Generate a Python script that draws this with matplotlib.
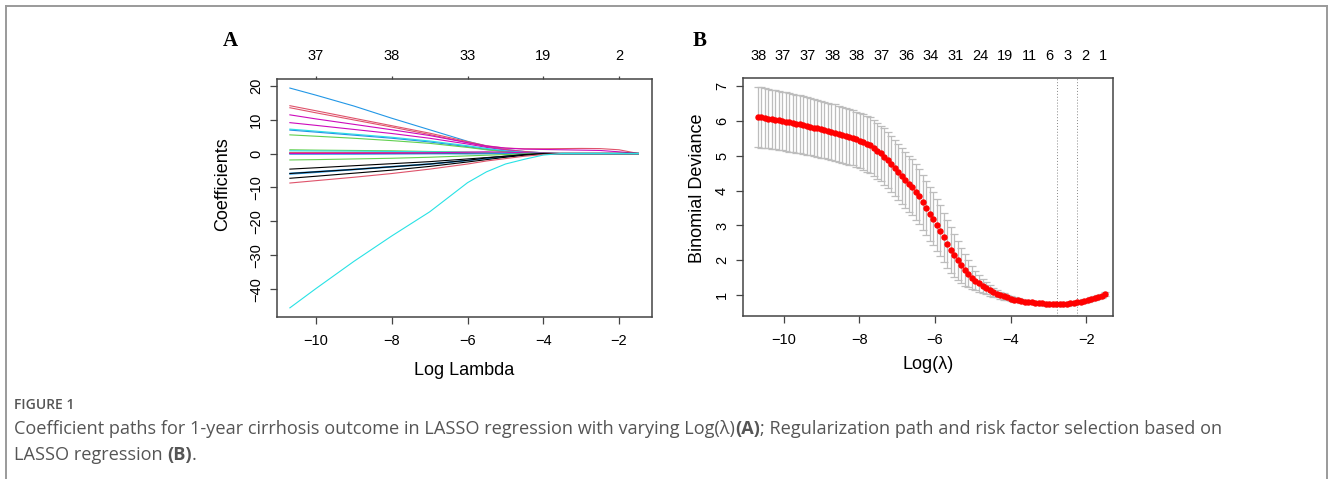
import numpy as np
import matplotlib
matplotlib.use("Agg")
from matplotlib import pyplot as plt
from matplotlib.lines import Line2D

# ---- panel A: coefficient paths, sampled along log lambda ----
path_x = [-10.69, -10, -9, -8, -7, -6, -5.5, -5, -4.5, -4, -3.5, -3, -2.5, -2, -1.49]
path_colors = ["#2297E6", "#DF536B", "#DF536B", "#CD0BBC", "#CD0BBC", "#28E2E5",
               "#2297E6", "#61D04F", "#61D04F", "#28E2E5", "#000000", "#DF536B",
               "#2297E6", "#CD0BBC", "#61D04F", "#000000", "#2297E6", "#2297E6",
               "#000000", "#000000", "#DF536B", "#28E2E5"]
path_y = [
    [19.3, 17.2, 14.0, 10.4, 7.0, 3.6, 2.2, 1.2, 0.6, 0.2, 0, 0, 0, 0, 0],
    [14.1, 12.6, 10.4, 8.2, 6.0, 3.5, 2.3, 1.6, 1.4, 1.4, 1.45, 1.5, 1.45, 1.1, 0],
    [13.5, 12.0, 9.9, 7.8, 5.6, 3.2, 2.0, 1.2, 0.6, 0.2, 0, 0, 0, 0, 0],
    [11.4, 10.2, 8.6, 7.0, 5.3, 3.2, 2.2, 1.6, 1.3, 1.2, 1.1, 1.0, 0.9, 0.5, 0],
    [9.1, 8.3, 7.1, 5.9, 4.5, 2.8, 1.8, 1.0, 0.4, 0.1, 0, 0, 0, 0, 0],
    [7.2, 6.6, 5.7, 4.8, 3.7, 2.3, 1.5, 0.8, 0.3, 0, 0, 0, 0, 0, 0],
    [6.9, 6.3, 5.4, 4.5, 3.4, 2.0, 1.2, 0.6, 0.2, 0, 0, 0, 0, 0, 0],
    [5.5, 5.1, 4.5, 3.8, 3.0, 1.8, 1.1, 0.5, 0.1, 0, 0, 0, 0, 0, 0],
    [1.1, 1.0, 0.9, 0.8, 0.6, 0.4, 0.3, 0.1, 0, 0, 0, 0, 0, 0, 0],
    [0.8, 0.75, 0.7, 0.6, 0.5, 0.35, 0.2, 0.1, 0, 0, 0, 0, 0, 0, 0],
    [0.1, 0.1, 0.1, 0.1, 0.05, 0, 0, 0, 0, 0, 0, 0, 0, 0, 0],
    [0.3, 0.3, 0.3, 0.25, 0.2, 0.15, 0.1, 0, 0, 0, 0, 0, 0, 0, 0],
    [-0.2, -0.2, -0.2, -0.15, -0.1, -0.1, -0.05, 0, 0, 0, 0, 0, 0, 0, 0],
    [0.0, 0.0, 0.05, 0.1, 0.2, 0.4, 0.5, 0.4, 0.2, 0, 0, 0, 0, 0, 0],
    [-1.9, -1.8, -1.6, -1.4, -1.1, -0.7, -0.5, -0.3, -0.1, 0, 0, 0, 0, 0, 0],
    [-4.6, -4.2, -3.6, -3.0, -2.4, -1.6, -1.2, -0.8, -0.4, -0.1, 0, 0, 0, 0, 0],
    [-5.8, -5.3, -4.6, -3.8, -3.0, -2.0, -1.4, -0.9, -0.4, -0.1, 0, 0, 0, 0, 0],
    [-6.1, -5.6, -4.8, -4.0, -3.2, -2.1, -1.5, -1.0, -0.5, -0.1, 0, 0, 0, 0, 0],
    [-5.9, -5.4, -4.7, -3.9, -3.1, -2.0, -1.3, -0.8, -0.3, 0, 0, 0, 0, 0, 0],
    [-7.3, -6.7, -5.8, -4.9, -3.8, -2.5, -1.8, -1.1, -0.5, -0.1, 0, 0, 0, 0, 0],
    [-8.7, -8.0, -7.0, -5.9, -4.6, -3.1, -2.2, -1.5, -0.8, -0.3, 0, 0, 0, 0, 0],
    [-45.5, -39.8, -31.8, -24.3, -17.2, -8.6, -5.4, -3.1, -1.7, -0.45, 0, 0, 0, 0, 0],
]
a_top_pos = [-10, -8, -6, -4, -2]
a_top_labels = ["37", "38", "33", "19", "2"]

# ---- panel B: cross-validated binomial deviance ----
n_lambda = 100
cv_mean = [6.11, 6.09, 6.08, 6.06, 6.04, 6.03, 6.01, 5.99, 5.97, 5.95,
           5.93, 5.91, 5.89, 5.87, 5.85, 5.83, 5.80, 5.78, 5.75, 5.73,
           5.70, 5.68, 5.66, 5.63, 5.60, 5.57, 5.54, 5.51, 5.47, 5.43,
           5.39, 5.34, 5.29, 5.22, 5.14, 5.06, 4.97, 4.87, 4.76, 4.64,
           4.53, 4.42, 4.31, 4.20, 4.09, 3.96, 3.83, 3.66, 3.50, 3.34,
           3.19, 3.02, 2.85, 2.66, 2.47, 2.31, 2.15, 2.00, 1.86, 1.73,
           1.62, 1.51, 1.42, 1.34, 1.27, 1.20, 1.14, 1.09, 1.05, 1.01,
           0.97, 0.94, 0.91, 0.88, 0.86, 0.84, 0.82, 0.81, 0.80, 0.79,
           0.78, 0.77, 0.76, 0.755, 0.75, 0.745, 0.748, 0.752, 0.76, 0.77,
           0.785, 0.80, 0.82, 0.84, 0.86, 0.89, 0.92, 0.95, 0.99, 1.04]
cv_sd = [0.86, 0.86, 0.86, 0.85, 0.85, 0.85, 0.85, 0.84, 0.84, 0.84,
         0.84, 0.83, 0.83, 0.83, 0.83, 0.82, 0.82, 0.82, 0.82, 0.81,
         0.81, 0.81, 0.81, 0.80, 0.80, 0.80, 0.80, 0.79, 0.79, 0.79,
         0.79, 0.80, 0.80, 0.80, 0.80, 0.80, 0.81, 0.81, 0.81, 0.81,
         0.81, 0.81, 0.80, 0.80, 0.80, 0.79, 0.79, 0.78, 0.78, 0.77,
         0.76, 0.75, 0.73, 0.71, 0.69, 0.66, 0.62, 0.57, 0.51, 0.45,
         0.39, 0.33, 0.28, 0.24, 0.20, 0.17, 0.15, 0.13, 0.11, 0.10,
         0.09, 0.08, 0.07, 0.07, 0.06, 0.06, 0.05, 0.05, 0.05, 0.05,
         0.05, 0.05, 0.05, 0.05, 0.05, 0.05, 0.05, 0.05, 0.05, 0.05,
         0.05, 0.05, 0.05, 0.05, 0.05, 0.05, 0.05, 0.05, 0.06, 0.06]
log_lambda = np.linspace(-10.69, -1.49, n_lambda)
lambda_min = -2.78
lambda_1se = -2.23
b_top_pos = [-10.67, -10.03, -9.37, -8.71, -8.07, -7.41, -6.76, -6.11,
             -5.46, -4.81, -4.15, -3.50, -2.97, -2.50, -2.03, -1.56]
b_top_labels = ["38", "37", "37", "38", "38", "37", "36", "34",
                "31", "24", "19", "11", "6", "3", "2", "1"]

plt.rcParams["font.family"] = ["Liberation Sans", "DejaVu Sans"]

W, H = 1330, 479
fig = plt.figure(figsize=(W / 100, H / 100), dpi=100)

frame_col = "#444444"


def style_axes(ax):
    for s in ax.spines.values():
        s.set_color(frame_col)
        s.set_linewidth(1.1)
    ax.tick_params(axis="both", direction="out", length=5, width=0.9,
                   color=frame_col, labelsize=10.5)
    ax.tick_params(axis="x", pad=7)
    ax.tick_params(axis="y", pad=5)
    for lab in ax.get_yticklabels():
        lab.set_rotation(90)
        lab.set_va("center")


# panel A
axA = fig.add_axes([277 / W, 1 - 317 / H, 375 / W, 238 / H])
for ys, c in zip(path_y, path_colors):
    axA.plot(path_x, ys, color=c, lw=0.8)
axA.set_xlim(-11.03, -1.13)
axA.set_ylim(-48.2, 21.97)
axA.set_xticks([-10, -8, -6, -4, -2])
axA.set_xticklabels(["\u221210", "\u22128", "\u22126", "\u22124", "\u22122"])
axA.set_yticks([20, 10, 0, -10, -20, -30, -40])
axA.set_yticklabels(["20", "10", "0", "\u221210", "\u221220", "\u221230", "\u221240"])
style_axes(axA)
axA.set_xlabel("Log Lambda", fontsize=13, labelpad=10)
axA.set_ylabel("Coefficients", fontsize=13, va="center")
axA.yaxis.set_label_coords((223 - 277) / 375, (317 - 184) / 238)
topA = axA.secondary_xaxis("top")
topA.set_xticks(a_top_pos)
topA.set_xticklabels(a_top_labels)
topA.tick_params(direction="out", length=2.5, width=0.9, color=frame_col,
                 labelsize=10.5, pad=9)
topA.spines["top"].set_visible(False)

# panel B
axB = fig.add_axes([743 / W, 1 - 316 / H, 370 / W, 238 / H])
axB.errorbar(log_lambda, cv_mean, yerr=cv_sd, fmt="none", ecolor="#BDBDBD",
             elinewidth=0.9, capsize=2.8, capthick=0.9, zorder=1)
axB.plot(log_lambda, cv_mean, "o", color="red", ms=3.6, mec="red", zorder=3)
axB.axvline(lambda_min, color="#888888", lw=0.7, ls=(0, (1, 2)))
axB.axvline(lambda_1se, color="#888888", lw=0.7, ls=(0, (1, 2)))
axB.set_xlim(-11.08, -1.29)
axB.set_ylim(0.41, 7.22)
axB.set_xticks([-10, -8, -6, -4, -2])
axB.set_xticklabels(["\u221210", "\u22128", "\u22126", "\u22124", "\u22122"])
axB.set_yticks([1, 2, 3, 4, 5, 6, 7])
style_axes(axB)
axB.set_xlabel("Log(\u03bb)", fontsize=13, labelpad=7)
axB.set_ylabel("Binomial Deviance", fontsize=13, va="center")
axB.yaxis.set_label_coords((698 - 743) / 370, (316 - 188) / 238)
topB = axB.secondary_xaxis("top")
topB.set_xticks(b_top_pos)
topB.set_xticklabels(b_top_labels)
topB.tick_params(length=0, labelsize=10.5, pad=11)
topB.spines["top"].set_visible(False)

# panel letters
fig.text(230 / W, 1 - 41 / H, "A", family="Liberation Serif", weight="bold",
         fontsize=15, ha="center", va="center")
fig.text(700 / W, 1 - 41 / H, "B", family="Liberation Serif", weight="bold",
         fontsize=15, ha="center", va="center")

# outer frame (no bottom edge)
fc = "#9a9a9a"
fig.add_artist(Line2D([6 / W, 6 / W], [0, 1 - 6 / H], color=fc, lw=1.4, transform=fig.transFigure))
fig.add_artist(Line2D([6 / W, 1327 / W], [1 - 6 / H, 1 - 6 / H], color=fc, lw=1.4, transform=fig.transFigure))
fig.add_artist(Line2D([1327 / W, 1327 / W], [0, 1 - 6 / H], color=fc, lw=1.4, transform=fig.transFigure))

# caption
cap_col = "#555555"
cfont = ["Open Sans", "DejaVu Sans"]
fig.text(14 / W, 1 - 405 / H, "FIGURE 1", family=cfont, fontsize=10,
         weight="semibold", color=cap_col, va="center")
renderer = fig.canvas.get_renderer()


def caption_line(x, y, parts):
    for txt, bold in parts:
        t = fig.text(x / W, 1 - y / H, txt, family=cfont, fontsize=13.1,
                     color=cap_col, va="center",
                     weight="bold" if bold else "normal")
        bb = t.get_window_extent(renderer=renderer)
        x += bb.width


caption_line(14, 429, [("Coefficient paths for 1-year cirrhosis outcome in LASSO regression "
                        "with varying Log(\u03bb)", False), ("(A)", True),
                       ("; Regularization path and risk factor selection based on", False)])
caption_line(14, 455, [("LASSO regression ", False), ("(B)", True), (".", False)])

fig.savefig("out.png", dpi=100)
